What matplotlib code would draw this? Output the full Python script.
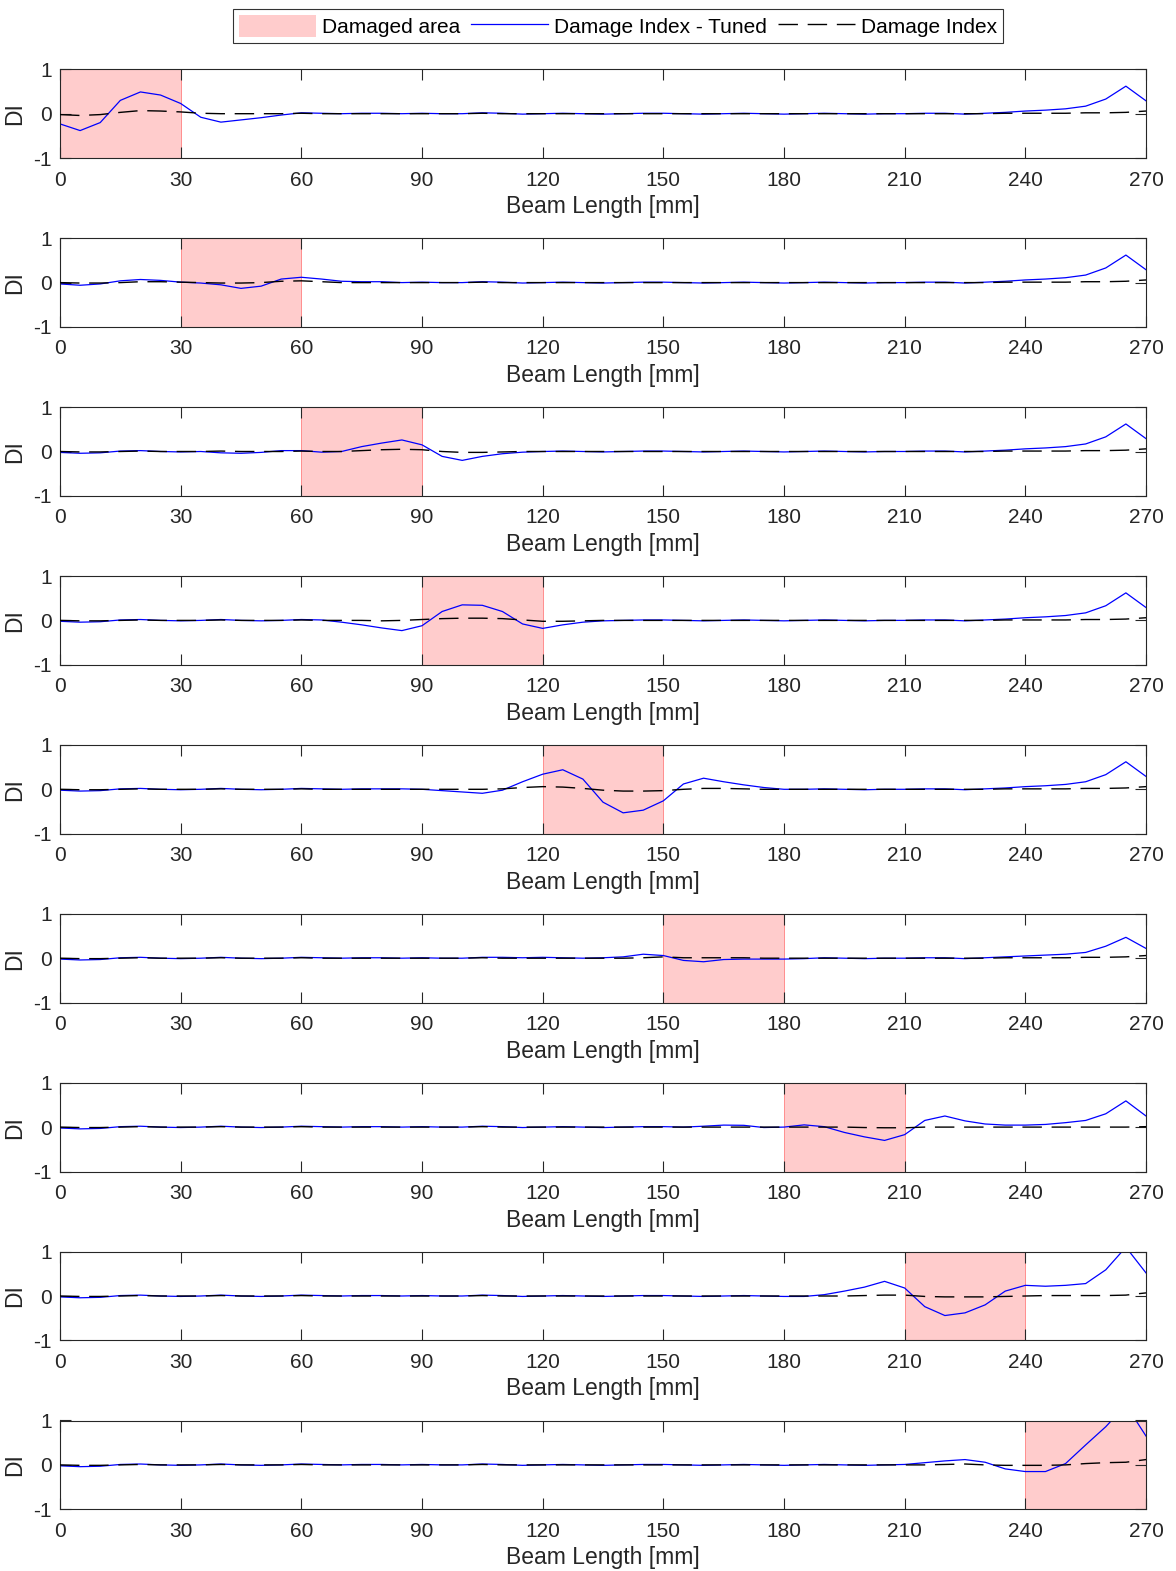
import numpy as np
import matplotlib
matplotlib.use('Agg')
import matplotlib.pyplot as plt
from matplotlib.patches import Patch
from matplotlib.lines import Line2D

plt.rcParams['font.family'] = ['Liberation Sans', 'DejaVu Sans']
plt.rcParams['axes.unicode_minus'] = False

# Measurement stations along the beam (every 5 mm)
x_mm = np.arange(0, 275, 5)

# Start of the damaged zone for each case, every zone is 30 mm long
damage_start = [0, 30, 60, 90, 120, 150, 180, 210, 240]
damage_width = 30

# Damage index after tuning (blue) and raw damage index (dashed), one pair per case
tuned_1 = [-0.23, -0.38, -0.20, 0.30, 0.49, 0.42, 0.23, -0.08, -0.19, -0.14,
           -0.09, -0.03, 0.02, 0.01, 0.0, 0.01, 0.01, 0.0, 0.01, 0.0,
           0.0, 0.02, 0.01, -0.01, 0.0, 0.01, 0.0, -0.01, 0.0, 0.01,
           0.01, 0.0, -0.01, 0.0, 0.01, 0.0, -0.01, 0.0, 0.01, 0.0,
           -0.01, 0.0, 0.0, 0.01, 0.01, -0.01, 0.01, 0.03, 0.06, 0.08,
           0.11, 0.17, 0.33, 0.62, 0.29]
index_1 = [-0.02, -0.04, -0.02, 0.03, 0.07, 0.06, 0.04, 0.01, 0.0, 0.0,
           0.0, 0.0, 0.01, 0.0, 0.0, 0.0, 0.0, 0.0, 0.0, 0.0,
           0.0, 0.01, 0.0, 0.0, 0.0, 0.0, 0.0, 0.0, 0.0, 0.0,
           0.0, 0.0, 0.0, 0.0, 0.0, 0.0, 0.0, 0.0, 0.0, 0.0,
           0.0, 0.0, 0.0, 0.0, 0.0, 0.0, 0.0, 0.01, 0.01, 0.01,
           0.01, 0.02, 0.02, 0.03, 0.06]

tuned_2 = [-0.03, -0.06, -0.03, 0.04, 0.07, 0.05, 0.01, -0.01, -0.05, -0.13,
           -0.08, 0.08, 0.12, 0.08, 0.03, 0.02, 0.02, 0.0, 0.01, 0.0,
           0.0, 0.02, 0.01, -0.01, 0.0, 0.01, 0.0, -0.01, 0.0, 0.01,
           0.01, 0.0, -0.01, 0.0, 0.01, 0.0, -0.01, 0.0, 0.01, 0.0,
           -0.01, 0.0, 0.0, 0.01, 0.01, -0.01, 0.01, 0.03, 0.06, 0.08,
           0.11, 0.17, 0.33, 0.62, 0.29]
index_2 = [0.0, -0.01, -0.01, 0.0, 0.02, 0.02, 0.01, 0.0, -0.01, -0.01,
           0.0, 0.03, 0.04, 0.02, 0.0, 0.0, 0.0, 0.0, 0.0, 0.0,
           0.0, 0.01, 0.0, 0.0, 0.0, 0.0, 0.0, 0.0, 0.0, 0.0,
           0.0, 0.0, 0.0, 0.0, 0.0, 0.0, 0.0, 0.0, 0.0, 0.0,
           0.0, 0.0, 0.0, 0.0, 0.0, 0.0, 0.0, 0.01, 0.01, 0.01,
           0.01, 0.02, 0.02, 0.03, 0.06]

tuned_3 = [-0.02, -0.04, -0.03, 0.01, 0.02, 0.0, -0.01, 0.0, -0.03, -0.04,
           -0.02, 0.02, 0.02, -0.015, 0.0, 0.11, 0.19, 0.26, 0.15, -0.11,
           -0.20, -0.11, -0.05, -0.015, 0.0, 0.01, 0.0, -0.01, 0.0, 0.01,
           0.01, 0.0, -0.01, 0.0, 0.01, 0.0, -0.01, 0.0, 0.01, 0.0,
           -0.01, 0.0, 0.0, 0.01, 0.01, -0.01, 0.01, 0.03, 0.06, 0.08,
           0.11, 0.17, 0.33, 0.62, 0.29]
index_3 = [0.0, -0.01, -0.01, 0.0, 0.01, 0.0, 0.0, 0.0, 0.01, 0.0,
           0.0, 0.0, 0.01, 0.0, 0.0, 0.02, 0.04, 0.05, 0.04, 0.0,
           -0.02, -0.02, -0.01, 0.0, 0.0, 0.0, 0.0, 0.0, 0.0, 0.0,
           0.0, 0.0, 0.0, 0.0, 0.0, 0.0, 0.0, 0.0, 0.0, 0.0,
           0.0, 0.0, 0.0, 0.0, 0.0, 0.0, 0.0, 0.01, 0.01, 0.01,
           0.01, 0.02, 0.02, 0.03, 0.06]

tuned_4 = [-0.02, -0.04, -0.03, 0.01, 0.02, 0.0, -0.01, 0.0, 0.02, 0.0,
           -0.01, 0.0, 0.02, 0.01, -0.04, -0.10, -0.17, -0.23, -0.12, 0.20,
           0.35, 0.34, 0.20, -0.08, -0.18, -0.10, -0.04, -0.01, 0.0, 0.01,
           0.01, 0.0, -0.01, 0.0, 0.01, 0.0, -0.01, 0.0, 0.01, 0.0,
           -0.01, 0.0, 0.0, 0.01, 0.01, -0.01, 0.01, 0.03, 0.06, 0.08,
           0.11, 0.17, 0.33, 0.62, 0.29]
index_4 = [0.0, -0.01, -0.01, 0.0, 0.01, 0.0, 0.0, 0.0, 0.01, 0.0,
           0.0, 0.0, 0.01, 0.0, 0.0, 0.0, -0.01, 0.0, 0.02, 0.04,
           0.05, 0.05, 0.04, 0.01, -0.02, -0.02, -0.01, 0.0, 0.0, 0.0,
           0.0, 0.0, 0.0, 0.0, 0.0, 0.0, 0.0, 0.0, 0.0, 0.0,
           0.0, 0.0, 0.0, 0.0, 0.0, 0.0, 0.0, 0.01, 0.01, 0.01,
           0.01, 0.02, 0.02, 0.03, 0.06]

tuned_5 = [-0.02, -0.04, -0.03, 0.01, 0.02, 0.0, -0.01, 0.0, 0.02, 0.0,
           -0.01, 0.0, 0.02, 0.01, 0.0, 0.01, 0.01, 0.01, 0.0, -0.03,
           -0.06, -0.09, -0.02, 0.17, 0.34, 0.44, 0.23, -0.29, -0.53, -0.47,
           -0.26, 0.12, 0.25, 0.17, 0.10, 0.04, 0.0, 0.0, 0.01, 0.0,
           -0.01, 0.0, 0.0, 0.01, 0.01, -0.01, 0.01, 0.03, 0.06, 0.08,
           0.11, 0.17, 0.33, 0.62, 0.29]
index_5 = [0.0, -0.01, -0.01, 0.0, 0.01, 0.0, 0.0, 0.0, 0.01, 0.0,
           0.0, 0.0, 0.01, 0.0, 0.0, 0.0, 0.0, 0.0, 0.0, 0.0,
           0.0, 0.0, 0.01, 0.04, 0.06, 0.05, 0.02, -0.02, -0.04, -0.04,
           -0.03, 0.0, 0.02, 0.02, 0.01, 0.0, 0.0, 0.0, 0.0, 0.0,
           0.0, 0.0, 0.0, 0.0, 0.0, 0.0, 0.0, 0.01, 0.01, 0.01,
           0.01, 0.02, 0.02, 0.03, 0.06]

tuned_6 = [-0.02, -0.04, -0.03, 0.01, 0.02, 0.0, -0.01, 0.0, 0.02, 0.0,
           -0.01, 0.0, 0.02, 0.01, 0.0, 0.01, 0.01, 0.0, 0.01, 0.0,
           0.0, 0.02, 0.02, 0.01, 0.02, 0.01, 0.0, 0.01, 0.03, 0.09,
           0.06, -0.05, -0.08, -0.03, -0.02, -0.02, -0.02, -0.01, 0.01, 0.0,
           -0.01, 0.0, 0.0, 0.01, 0.01, -0.01, 0.01, 0.03, 0.05, 0.07,
           0.09, 0.13, 0.27, 0.47, 0.22]
index_6 = [0.0, -0.01, -0.01, 0.0, 0.01, 0.0, 0.0, 0.0, 0.01, 0.0,
           0.0, 0.0, 0.01, 0.0, 0.0, 0.0, 0.0, 0.0, 0.0, 0.0,
           0.0, 0.01, 0.0, 0.0, 0.0, 0.0, 0.0, 0.0, 0.0, 0.01,
           0.03, 0.01, 0.01, 0.01, 0.01, 0.0, 0.0, 0.0, 0.0, 0.0,
           0.0, 0.0, 0.0, 0.0, 0.0, 0.0, 0.0, 0.01, 0.01, 0.01,
           0.01, 0.02, 0.02, 0.03, 0.06]

tuned_7 = [-0.02, -0.04, -0.03, 0.01, 0.02, 0.0, -0.01, 0.0, 0.02, 0.0,
           -0.01, 0.0, 0.02, 0.01, 0.0, 0.01, 0.01, 0.0, 0.01, 0.0,
           0.0, 0.02, 0.01, -0.01, 0.0, 0.01, 0.0, -0.01, 0.0, 0.01,
           0.01, 0.0, 0.02, 0.045, 0.04, -0.01, 0.0, 0.05, 0.01, -0.12,
           -0.22, -0.30, -0.17, 0.15, 0.25, 0.14, 0.07, 0.045, 0.045, 0.06,
           0.10, 0.15, 0.30, 0.59, 0.25]
index_7 = [0.0, -0.01, -0.01, 0.0, 0.01, 0.0, 0.0, 0.0, 0.01, 0.0,
           0.0, 0.0, 0.01, 0.0, 0.0, 0.0, 0.0, 0.0, 0.0, 0.0,
           0.0, 0.01, 0.0, 0.0, 0.0, 0.0, 0.0, 0.0, 0.0, 0.0,
           0.0, 0.0, 0.0, 0.0, 0.0, 0.0, 0.0, 0.0, 0.0, 0.0,
           -0.01, -0.015, -0.015, 0.0, 0.0, 0.0, 0.0, 0.0, 0.0, 0.0,
           0.0, 0.0, 0.0, 0.0, 0.01]

tuned_8 = [-0.02, -0.04, -0.03, 0.01, 0.02, 0.0, -0.01, 0.0, 0.02, 0.0,
           -0.01, 0.0, 0.02, 0.01, 0.0, 0.01, 0.01, 0.0, 0.01, 0.0,
           0.0, 0.02, 0.01, -0.01, 0.0, 0.01, 0.0, -0.01, 0.0, 0.01,
           0.01, 0.0, -0.01, 0.0, 0.01, 0.0, -0.01, -0.01, 0.03, 0.11,
           0.20, 0.33, 0.18, -0.24, -0.44, -0.38, -0.20, 0.11, 0.24, 0.22,
           0.24, 0.28, 0.59, 1.10, 0.52]
index_8 = [0.0, -0.01, -0.01, 0.0, 0.01, 0.0, 0.0, 0.0, 0.01, 0.0,
           0.0, 0.0, 0.01, 0.0, 0.0, 0.0, 0.0, 0.0, 0.0, 0.0,
           0.0, 0.01, 0.0, 0.0, 0.0, 0.0, 0.0, 0.0, 0.0, 0.0,
           0.0, 0.0, 0.0, 0.0, 0.0, 0.0, 0.0, 0.0, 0.0, 0.0,
           0.01, 0.02, 0.02, -0.01, -0.02, -0.02, -0.02, -0.01, 0.0, 0.01,
           0.01, 0.01, 0.01, 0.02, 0.07]

tuned_9 = [-0.02, -0.04, -0.03, 0.01, 0.02, 0.0, -0.01, 0.0, 0.02, 0.0,
           -0.01, 0.0, 0.02, 0.01, 0.0, 0.01, 0.01, 0.0, 0.01, 0.0,
           0.0, 0.02, 0.01, -0.01, 0.0, 0.01, 0.0, -0.01, 0.0, 0.01,
           0.01, 0.0, -0.01, 0.0, 0.01, 0.0, -0.01, 0.0, 0.01, 0.0,
           -0.01, 0.0, 0.01, 0.05, 0.09, 0.12, 0.06, -0.09, -0.15, -0.15,
           0.03, 0.45, 0.86, 1.35, 0.65]
index_9 = [0.0, -0.01, -0.01, 0.0, 0.01, 0.0, 0.0, 0.0, 0.01, 0.0,
           0.0, 0.0, 0.01, 0.0, 0.0, 0.0, 0.0, 0.0, 0.0, 0.0,
           0.0, 0.01, 0.0, 0.0, 0.0, 0.0, 0.0, 0.0, 0.0, 0.0,
           0.0, 0.0, 0.0, 0.0, 0.0, 0.0, 0.0, 0.0, 0.0, 0.0,
           0.0, 0.0, 0.0, 0.0, 0.01, 0.02, 0.0, -0.01, -0.01, -0.01,
           0.0, 0.03, 0.05, 0.06, 0.12]

tuned = [tuned_1, tuned_2, tuned_3, tuned_4, tuned_5, tuned_6, tuned_7, tuned_8, tuned_9]
index = [index_1, index_2, index_3, index_4, index_5, index_6, index_7, index_8, index_9]

x_ticks = list(range(0, 271, 30))
y_ticks = [-1, 0, 1]

# figure geometry in pixels
W, H = 1176, 1571
AX_LEFT, AX_WIDTH = 60, 1086
AX_TOP0, AX_STEP, AX_HEIGHT = 69.3, 168.9, 88.8

PINK = '#ffcccc'
AXIS_GREY = '#262626'
DASH = (0, (14, 7))

fig = plt.figure(figsize=(W / 100, H / 100), dpi=100)

for k in range(len(tuned)):
    top = AX_TOP0 + AX_STEP * k
    ax = fig.add_axes([AX_LEFT / W, 1 - (top + AX_HEIGHT) / H, AX_WIDTH / W, AX_HEIGHT / H])

    # shaded damaged zone, then both index curves
    ax.axvspan(damage_start[k], damage_start[k] + damage_width,
               facecolor=PINK, edgecolor='#ff8080', linewidth=0.6, zorder=1)
    ax.plot(x_mm, tuned[k], color='blue', linewidth=0.9, zorder=2)
    ax.plot(x_mm, index[k], color='black', linewidth=1.0, linestyle=DASH, zorder=3)

    ax.set_xlim(0, 270)
    ax.set_ylim(-1, 1)
    ax.set_xticks(x_ticks)
    ax.set_yticks(y_ticks)
    ax.tick_params(direction='in', top=True, right=True, length=8, width=0.8,
                   labelsize=15, color=AXIS_GREY, labelcolor=AXIS_GREY)
    ax.tick_params(axis='x', pad=9)
    ax.tick_params(axis='y', pad=6)
    for sp in ax.spines.values():
        sp.set_color(AXIS_GREY)
        sp.set_linewidth(0.8)
    ax.set_xlabel('Beam Length [mm]', fontsize=16.5, color=AXIS_GREY, labelpad=4)
    ax.set_ylabel('DI', fontsize=16.5, color=AXIS_GREY, labelpad=5)

handles = [Patch(facecolor=PINK, edgecolor='none'),
           Line2D([], [], color='blue', linewidth=0.9),
           Line2D([], [], color='black', linewidth=1.0, linestyle=DASH)]
labels = ['Damaged area', 'Damage Index - Tuned', 'Damage Index']
leg = fig.legend(handles, labels, loc='upper center', bbox_to_anchor=(618 / W, 1 - 9 / H),
                 ncol=3, fontsize=15, frameon=True, fancybox=False, edgecolor='black',
                 handlelength=3.7, handleheight=1.2, handletextpad=0.3,
                 columnspacing=0.5, borderpad=0.3, borderaxespad=0)
leg.get_frame().set_linewidth(0.8)

fig.savefig('out.png', dpi=100)
